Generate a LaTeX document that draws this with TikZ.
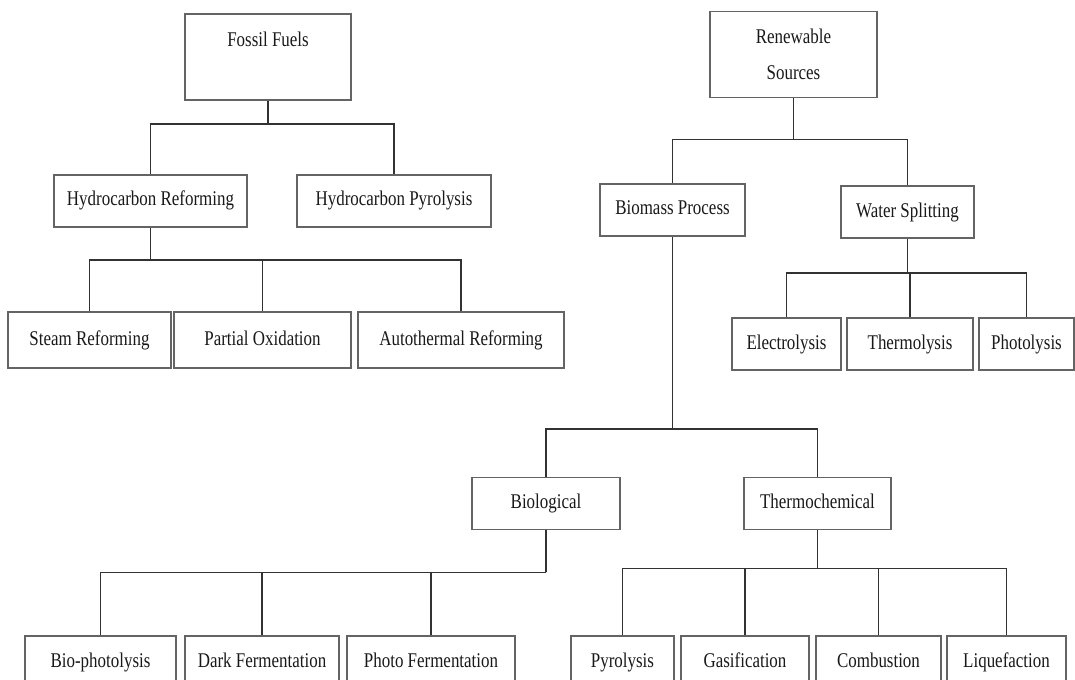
\documentclass[tikz,border=0pt]{standalone}
\usepackage{fontspec}
\setmainfont{Liberation Serif}[FakeStretch=0.81]
\usepackage{tikz}
\definecolor{boxgrey}{RGB}{100,100,100}
\definecolor{linegrey}{RGB}{50,50,50}
\definecolor{textgrey}{RGB}{25,25,25}

\begin{document}
\begin{tikzpicture}[x=1bp, y=-1bp,
    box/.style={rectangle, draw=boxgrey, line width=1.6bp, fill=white, text=textgrey,
                minimum height=52bp, inner sep=2bp, align=center,
                text height=14.5bp, text depth=4.5bp,
                font=\fontsize{21}{36}\selectfont},
    topbox/.style={box, minimum height=86bp, text height={}, text depth={}},
    link/.style={draw=linegrey, line width=1.6bp}
]
    \clip (0,0) rectangle (1075,680);

    % fossil branch
    \node[topbox, minimum width=166bp] (fossil) at (268,57) {Fossil Fuels\\\mbox{}};
    \node[box, minimum width=193bp] (hcref) at (150.5,201) {Hydrocarbon Reforming};
    \node[box, minimum width=194bp] (hcpyr) at (394,201) {Hydrocarbon Pyrolysis};
    \node[box, minimum width=163bp, minimum height=56bp] (steam) at (89.5,340) {Steam Reforming};
    \node[box, minimum width=177bp, minimum height=56bp] (partial) at (262.5,340) {Partial Oxidation};
    \node[box, minimum width=206bp, minimum height=56bp] (autotherm) at (461,340) {Autothermal Reforming};

    % renewable branch
    \node[topbox, minimum width=167bp] (renew) at (793.5,54.5) {Renewable\\Sources};
    \node[box, minimum width=145bp] (biomass) at (672.5,210) {Biomass Process};
    \node[box, minimum width=133bp] (water) at (907.5,212) {Water Splitting};
    \node[box, minimum width=109bp] (electro) at (786.5,344) {Electrolysis};
    \node[box, minimum width=126bp] (thermo) at (910,344) {Thermolysis};
    \node[box, minimum width=95bp] (photo) at (1026.5,344) {Photolysis};
    \node[box, minimum width=148bp] (biolog) at (546,503.5) {Biological};
    \node[box, minimum width=147bp] (thermochem) at (817.5,503.5) {Thermochemical};

    % bottom row
    \node[box, minimum width=151bp] (biophot) at (100.5,662) {Bio-photolysis};
    \node[box, minimum width=154bp] (dark) at (262,662) {Dark Fermentation};
    \node[box, minimum width=168bp] (photoferm) at (431,662) {Photo Fermentation};
    \node[box, minimum width=103bp] (pyro) at (622.5,662) {Pyrolysis};
    \node[box, minimum width=128bp] (gasif) at (745,662) {Gasification};
    \node[box, minimum width=125bp] (combust) at (878.5,662) {Combustion};
    \node[box, minimum width=119bp] (liquef) at (1006.5,662) {Liquefaction};

    % bus points
    \coordinate (ffbus) at ([yshift=-23bp]fossil.south);
    \coordinate (hrbus) at ([yshift=-32bp]hcref.south);
    \coordinate (rsbus) at ([yshift=-41bp]renew.south);
    \coordinate (wsbus) at ([yshift=-34bp]water.south);
    \coordinate (bpbus) at ([yshift=-192bp]biomass.south);
    \coordinate (blbus) at ([yshift=-42bp]biolog.south);
    \coordinate (tcbus) at ([yshift=-38bp]thermochem.south);

    % connectors
    \draw[link] (fossil.south) -- (ffbus);
    \draw[link] (hcref.north) |- (ffbus) -| (hcpyr.north);
    \draw[link] (hcref.south) -- (hrbus);
    \draw[link] (steam.north) |- (hrbus) -| (autotherm.north);
    \draw[link] (partial.north) -- (partial.north |- hrbus);

    \draw[link] (renew.south) -- (rsbus);
    \draw[link] (biomass.north) |- (rsbus) -| (water.north);
    \draw[link] (water.south) -- (wsbus);
    \draw[link] (electro.north) |- (wsbus) -| (photo.north);
    \draw[link] (thermo.north) -- (thermo.north |- wsbus);

    \draw[link] (biomass.south) -- (bpbus);
    \draw[link] (biolog.north) |- (bpbus) -| (thermochem.north);
    \draw[link] (biolog.south) -- (blbus);
    \draw[link] (biophot.north) |- (blbus) -| (photoferm.north);
    \draw[link] (dark.north) -- (dark.north |- blbus);
    \draw[link] (thermochem.south) -- (tcbus);
    \draw[link] (pyro.north) |- (tcbus) -| (liquef.north);
    \draw[link] (gasif.north) -- (gasif.north |- tcbus);
    \draw[link] (combust.north) -- (combust.north |- tcbus);
\end{tikzpicture}
\end{document}
